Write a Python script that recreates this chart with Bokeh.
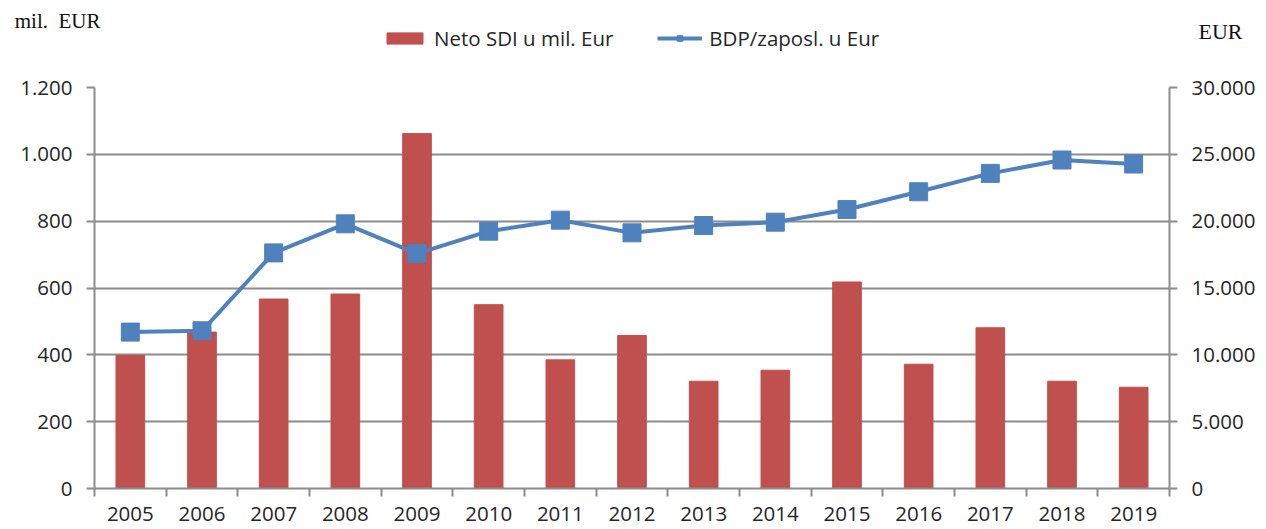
from bokeh.plotting import figure
from bokeh.layouts import column
from bokeh.models import (Range1d, LinearAxis, FixedTicker, Legend, LegendItem,
                          ColumnDataSource)
from bokeh.embed import file_html
from bokeh.resources import INLINE

years = [2005, 2006, 2007, 2008, 2009, 2010, 2011, 2012, 2013, 2014,
         2015, 2016, 2017, 2018, 2019]
neto_sdi = [398, 468, 567, 582, 1062, 550, 385, 458, 321, 354,
            618, 372, 481, 321, 303]
bdp_zaposl = [11700, 11800, 17625, 19800, 17575, 19250, 20075, 19125, 19675,
              19925, 20875, 22200, 23575, 24575, 24275]
left_ticks = [0, 200, 400, 600, 800, 1000, 1200]
left_labels = ["0", "200", "400", "600", "800", "1.000", "1.200"]
right_ticks = [0, 5000, 10000, 15000, 20000, 25000, 30000]
right_labels = ["0", "5.000", "10.000", "15.000", "20.000", "25.000", "30.000"]
year_labels = [str(y) for y in years]
series_names = ["Neto SDI u mil. Eur", "BDP/zaposl. u Eur"]
left_unit = "mil.\u00a0 EUR"
right_unit = "EUR"

RED = "#C0504D"
BLUE = "#4F81BD"
GRID = "#8C8C8C"
TXT = "#262626"
FONT = "Open Sans"
FS = "20.5px"
W = 1258
HEAD_H = 72
MAIN_H = 455

src = ColumnDataSource(data=dict(x=years, sdi=neto_sdi, bdp=bdp_zaposl))

# ---------------- main chart ----------------
p = figure(width=W, height=MAIN_H, output_backend="svg", toolbar_location=None,
           x_range=Range1d(years[0] - 0.5, years[-1] + 0.5),
           y_range=Range1d(0, 1200),
           min_border_left=94, min_border_right=87, min_border_top=15,
           min_border_bottom=39)
p.outline_line_color = None
p.background_fill_color = "white"
p.border_fill_color = "white"
p.extra_y_ranges = {"right": Range1d(0, 30000)}

p.vbar(x="x", top="sdi", width=0.4, source=src, fill_color=RED, line_color=RED)
p.line(x="x", y="bdp", source=src, y_range_name="right",
       line_color=BLUE, line_width=4)
p.scatter(x="x", y="bdp", source=src, y_range_name="right",
          marker="square", size=18, fill_color=BLUE, line_color=BLUE)

# x axis: labels at year centres, tick marks between categories
xa = p.xaxis[0]
boundaries = [y - 0.5 for y in years] + [years[-1] + 0.5]
xa.ticker = FixedTicker(ticks=years, minor_ticks=boundaries)
xa.major_label_overrides = {y: s for y, s in zip(years, year_labels)}
xa.major_tick_line_color = None
xa.major_tick_out = 8
xa.major_tick_in = 0
xa.minor_tick_out = 8
xa.minor_tick_in = 0
xa.minor_tick_line_color = GRID
xa.minor_tick_line_width = 2
xa.axis_line_color = GRID
xa.axis_line_width = 2
xa.major_label_standoff = 10
xa.major_label_text_font = FONT
xa.major_label_text_font_size = FS
xa.major_label_text_color = TXT

# left axis
ya = p.yaxis[0]
ya.ticker = FixedTicker(ticks=left_ticks)
ya.major_label_overrides = {t: s for t, s in zip(left_ticks, left_labels)}
ya.minor_tick_line_color = None
ya.major_tick_out = 8
ya.major_tick_in = 0
ya.major_tick_line_color = GRID
ya.major_tick_line_width = 2
ya.axis_line_color = GRID
ya.axis_line_width = 2
ya.major_label_standoff = 14
ya.major_label_text_font = FONT
ya.major_label_text_font_size = FS
ya.major_label_text_color = TXT

# right axis
ra = LinearAxis(y_range_name="right", ticker=FixedTicker(ticks=right_ticks))
ra.major_label_overrides = {t: s for t, s in zip(right_ticks, right_labels)}
ra.minor_tick_line_color = None
ra.major_tick_out = 8
ra.major_tick_in = 0
ra.major_tick_line_color = GRID
ra.major_tick_line_width = 2
ra.axis_line_color = GRID
ra.axis_line_width = 2
ra.major_label_standoff = 14
ra.major_label_text_font = FONT
ra.major_label_text_font_size = FS
ra.major_label_text_color = TXT
p.add_layout(ra, "right")

p.xgrid.grid_line_color = None
p.ygrid.ticker = FixedTicker(ticks=left_ticks)
p.ygrid.grid_line_color = GRID
p.ygrid.grid_line_width = 2

# ---------------- header: unit labels and legend ----------------
# header y coordinates are pixels measured up from the header's bottom edge
h = figure(width=W, height=HEAD_H, output_backend="svg", toolbar_location=None,
           x_range=Range1d(0, W), y_range=Range1d(0, HEAD_H),
           x_axis_type=None, y_axis_type=None,
           min_border_left=94, min_border_right=87, min_border_top=0,
           min_border_bottom=0)
h.outline_line_color = None
h.background_fill_color = "white"
h.border_fill_color = "white"

# hidden renderers that only supply the legend glyphs
lb = h.vbar(x="x", top="sdi", width=0.4, source=src, fill_color=RED,
            line_color=RED, visible=False)
ll = h.line(x="x", y="bdp", source=src, line_color=BLUE, line_width=4,
            visible=False)
lm = h.scatter(x="x", y="bdp", source=src, marker="square", size=13,
               fill_color=BLUE, line_color=BLUE, visible=False)

legend = Legend(items=[LegendItem(label=series_names[0], renderers=[lb]),
                       LegendItem(label=series_names[1], renderers=[ll, lm])],
                orientation="horizontal", location=(288, 20),
                label_text_font=FONT, label_text_font_size="20.5px",
                label_text_color=TXT, glyph_width=45, glyph_height=14,
                spacing=44, label_standoff=7, padding=0, margin=0,
                border_line_color=None, background_fill_alpha=0,
                inactive_fill_alpha=0)
h.add_layout(legend, "center")


def unit_axis(ypos, text, standoff, size):
    ax = LinearAxis(ticker=FixedTicker(ticks=[ypos], minor_ticks=[]))
    ax.major_label_overrides = {ypos: text}
    ax.axis_line_color = None
    ax.major_tick_line_color = None
    ax.minor_tick_line_color = None
    ax.major_tick_out = 0
    ax.major_tick_in = 0
    ax.major_label_standoff = standoff
    ax.major_label_text_font = "Liberation Serif"
    ax.major_label_text_font_size = size
    ax.major_label_text_color = "#111111"
    return ax


h.add_layout(unit_axis(52, left_unit, -6, "21px"), "left")
h.add_layout(unit_axis(41, right_unit, 29, "22px"), "right")

layout = column(h, p, spacing=0)
open("out.html", "w").write(file_html(layout, INLINE))
